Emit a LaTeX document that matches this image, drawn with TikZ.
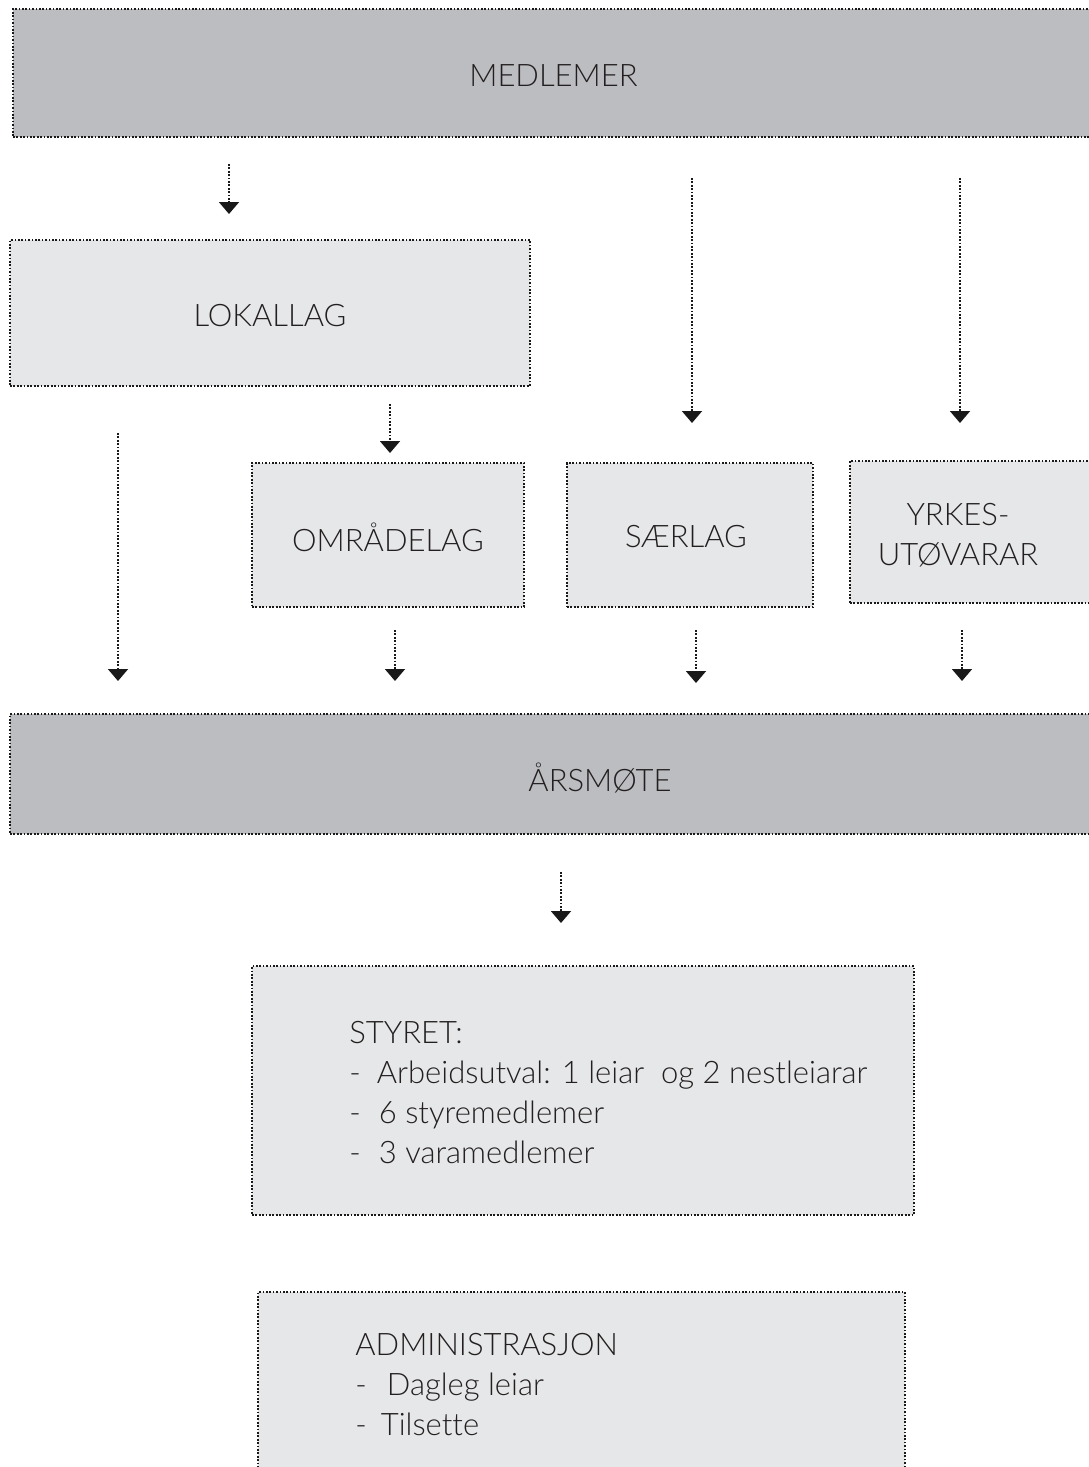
\documentclass[tikz,border=0pt]{standalone}
\usepackage{fontspec}
\IfFontExistsTF{Lato Light}{\setmainfont{Lato Light}[Ligatures=NoCommon]}{\setmainfont{Lato}[Ligatures=NoCommon]}
\usetikzlibrary{arrows.meta}
\definecolor{darkfill}{HTML}{BCBDC0}
\definecolor{lightfill}{HTML}{E6E7E8}
\definecolor{txt}{HTML}{231F20}
\tikzset{
  dotline/.style={draw=black!90, line width=0.9pt, dash pattern=on 0.85pt off 0.85pt},
  box/.style={dotline, rectangle, inner sep=0pt},
  darkbox/.style={box, fill=darkfill},
  lightbox/.style={box, fill=lightfill},
  lbl/.style={text=txt, font=\fontsize{15.5}{19}\selectfont, inner sep=0pt},
  lines/.style={lbl, anchor=base west},
  flow/.style={dotline, -{Triangle[width=10pt,length=6pt]}}
}
\begin{document}
\begin{tikzpicture}[x=0.5pt,y=-0.5pt]
\useasboundingbox (0,0) rectangle (1088,1467);
% boxes
\node[darkbox, minimum width=541pt, minimum height=64pt] (med) at (554,73) {};
\node[lbl] (medt) at (553.5,75.5) {MEDLEMER};
\node[lightbox, minimum width=260pt, minimum height=73pt] (lok) at (270,313) {};
\node[lbl] (lokt) at (270,316) {LOKALLAG};
\node[lightbox, minimum width=136pt, minimum height=72pt] (omr) at (388,535) {};
\node[lbl] (omrt) at (388,537) {OMRÅDELAG};
\node[lightbox, minimum width=123pt, minimum height=72pt] (saer) at (690,535) {};
\node[lbl] (saert) at (686,537) {SÆRLAG};
\node[lightbox, minimum width=122.5pt, minimum height=71pt] (yrk) at (972.5,532) {};
\node[lbl, align=center, font=\fontsize{15.5}{20}\selectfont] (yrkt) at (958,535) {YRKES-\\UTØVARAR};
\node[darkbox, minimum width=542.5pt, minimum height=60pt] (ars) at (552.5,774) {};
\node[lbl] (arst) at (600,778) {ÅRSMØTE};
\node[lightbox, minimum width=331pt, minimum height=124.5pt] (sty) at (583,1090.5) {};
\node[lightbox, minimum width=323.5pt, minimum height=99pt] (adm) at (581.5,1391) {};
% text lines
\node[lines] (s1) at (349,1043) {STYRET:};
\node[lines] (s2) at (349,1083) {-\hspace{8pt}Arbeidsutval: 1 leiar\ \ og 2 nestleiarar};
\node[lines] (s3) at (349,1123) {-\hspace{9pt}6 styremedlemer};
\node[lines] (s4) at (349,1163) {-\hspace{9pt}3 varamedlemer};
\node[lines] (a1) at (355,1355) {ADMINISTRASJON};
\node[lines] (a2) at (355,1395) {-\hspace{10pt}Dagleg leiar};
\node[lines] (a3) at (355,1435) {-\hspace{7pt}Tilsette};
% arrow end points
\coordinate (c1s) at (229,164); \coordinate (c1e) at (229,214);
\coordinate (c2s) at (692,178); \coordinate (c2e) at (692,423);
\coordinate (c3s) at (960,178); \coordinate (c3e) at (960,423);
\coordinate (c4s) at (390,404); \coordinate (c4e) at (390,453);
\coordinate (c5s) at (118,433); \coordinate (c5e) at (118,681);
\coordinate (c6s) at (395,630); \coordinate (c6e) at (395,681);
\coordinate (c7s) at (696,630); \coordinate (c7e) at (696,683);
\coordinate (c8s) at (962,630); \coordinate (c8e) at (962,681);
\coordinate (c9s) at (561,872); \coordinate (c9e) at (561,923);
\foreach \i in {1,...,9} {\draw[flow] (c\i s) -- (c\i e);}
\end{tikzpicture}
\end{document}
